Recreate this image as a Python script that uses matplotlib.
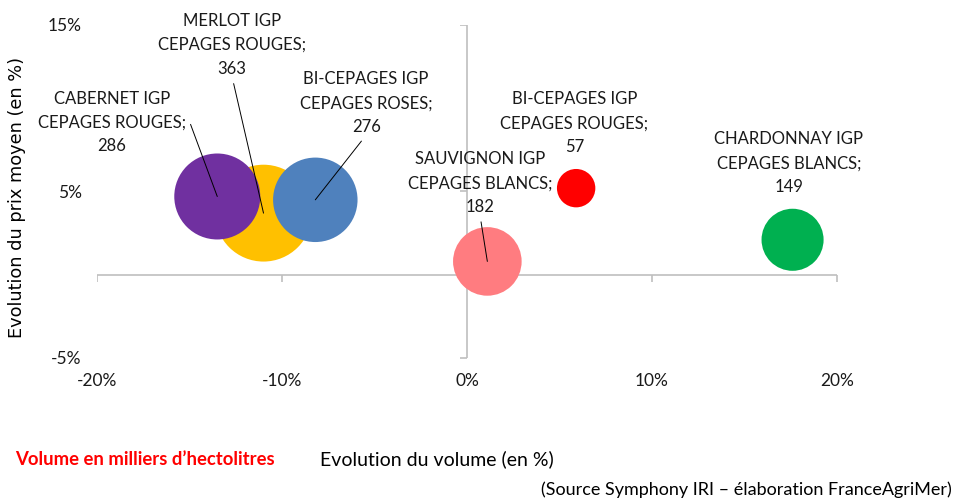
import matplotlib
matplotlib.use("Agg")
import matplotlib.pyplot as plt
import matplotlib.ticker as mticker

# données (évolution volume %, évolution prix moyen %, volume milliers hl)
noms = ["MERLOT IGP\nCEPAGES ROUGES;", "CABERNET IGP\nCEPAGES ROUGES;",
        "BI-CEPAGES IGP\nCEPAGES ROSES;", "SAUVIGNON IGP\nCEPAGES BLANCS;",
        "BI-CEPAGES IGP\nCEPAGES ROUGES;", "CHARDONNAY IGP\nCEPAGES BLANCS;"]
evol_volume = [-11.0, -13.5, -8.2, 1.1, 5.9, 17.6]
evol_prix = [3.7, 4.7, 4.5, 0.8, 5.2, 2.1]
volumes = [363, 286, 276, 182, 57, 149]
couleurs = ["#FFC000", "#7030A0", "#4F81BD", "#FF7C80", "#FF0000", "#00B050"]

# position des étiquettes (centre du bloc, en unités des axes)
pos_etiquettes = [(-12.7, 13.8), (-19.2, 9.15), (-5.45, 10.3),
                  (0.7, 5.5), (5.8, 9.1), (17.4, 6.7)]

xticks = [-20, -10, 0, 10, 20]
yticks = [-5, 5, 15]

plt.rcParams['font.family'] = ['Lato', 'DejaVu Sans']

fig = plt.figure(figsize=(9.55, 4.99), dpi=100)
ax = fig.add_axes([0.1016, 0.2826, 0.7748, 0.6673])
ax.set_xlim(-20, 20)
ax.set_ylim(-5, 15)

for s in ax.spines.values():
    s.set_visible(False)

gris = "#BFBFBF"
ax.axhline(0, color=gris, lw=1.2, zorder=1)
ax.axvline(0, color=gris, lw=1.2, zorder=1)
# petites graduations sur les axes centraux
ax.plot(xticks, [0] * len(xticks), ls="none", marker=3, ms=5, mew=1.2, color=gris, zorder=1)
ax.plot([0] * len(yticks), yticks, ls="none", marker=0, ms=5, mew=1.2, color=gris, zorder=1)

ax.set_xticks(xticks)
ax.set_yticks(yticks)
ax.xaxis.set_major_formatter(mticker.FuncFormatter(lambda v, p: f"{v:.0f}%"))
ax.yaxis.set_major_formatter(mticker.FuncFormatter(lambda v, p: f"{v:.0f}%"))
ax.tick_params(length=0, labelsize=12.5, labelcolor="#1a1a1a", pad=11)

ax.scatter(evol_volume, evol_prix, s=[v * 13.4 for v in volumes], c=couleurs,
           linewidths=0, zorder=3)

# étiquettes avec lignes de rappel
for i, (nom, vol) in enumerate(zip(noms, volumes)):
    txt = f"{nom}\n{vol}"
    tx, ty = pos_etiquettes[i]
    if i == 1:
        props = dict(arrowstyle="-", color="#000000", lw=0.7, relpos=(1.0, 0.5),
                     shrinkA=2, shrinkB=0,
                     connectionstyle="arc,angleA=0,angleB=90,armA=4,armB=0,rad=0")
    elif i in (0, 2, 3):
        props = dict(arrowstyle="-", color="#000000", lw=0.7, relpos=(0.5, 0.0),
                     shrinkA=3, shrinkB=0)
    else:
        props = None
    ax.annotate(txt, xy=(evol_volume[i], evol_prix[i]), xytext=(tx, ty),
                textcoords="data", ha="center", va="center", fontsize=12,
                linespacing=1.6, color="#1a1a1a", arrowprops=props, zorder=4)

fig.text(0.018, 0.604, "Evolution du prix moyen (en %)", rotation=90,
         ha="center", va="center", fontsize=12.8, family="DejaVu Sans")
fig.text(0.335, 0.080, "Evolution du volume (en %)", ha="left", va="center",
         fontsize=14)
fig.text(0.016, 0.080, "Volume en milliers d’hectolitres", ha="left", va="center",
         fontsize=13.3, fontweight="bold", color="#FF0000")
fig.text(0.997, 0.018, "(Source Symphony IRI – élaboration FranceAgriMer)",
         ha="right", va="center", fontsize=13)

fig.savefig("out.png", dpi=100)
